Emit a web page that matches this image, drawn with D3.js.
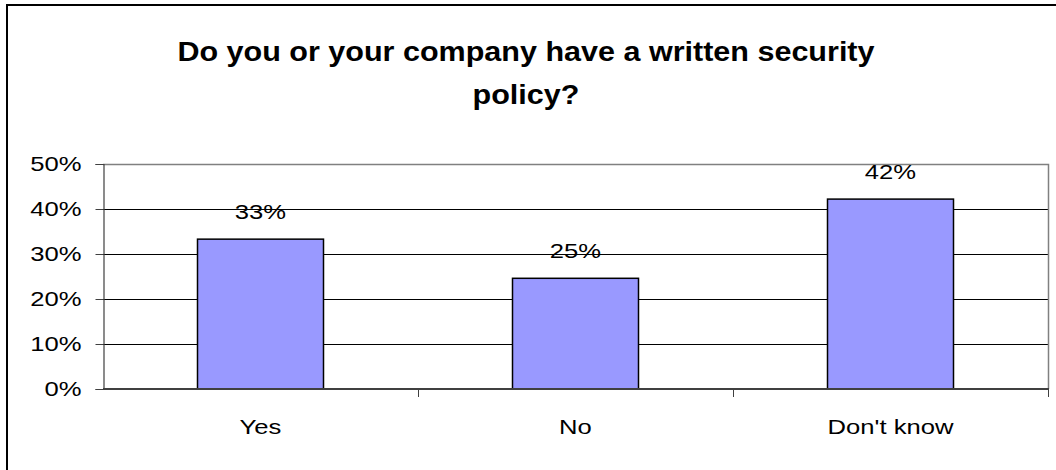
<!DOCTYPE html>
<html>
<head>
<meta charset="utf-8">
<script src="https://cdn.jsdelivr.net/npm/d3@7"></script>
<style>
  html, body { margin: 0; padding: 0; background: #fff; }
  svg { display: block; font-family: "Liberation Sans", Arial, sans-serif; }
</style>
</head>
<body>
<svg id="chart" width="1056" height="470"></svg>
<script>
// Survey responses
const categories = ["Yes", "No", "Don't know"];
const shares = [0.333, 0.246, 0.422];
const yTicks = [0, 0.1, 0.2, 0.3, 0.4, 0.5];
const titleLines = ["Do you or your company have a written security", "policy?"];

const W = 1056, H = 470;
const plot = { left: 103, right: 1048, top: 164, bottom: 389 };

const svg = d3.select("#chart");

// Widen glyphs horizontally by factor k (text keeps its anchor)
function widen(sel, k) {
  sel.each(function () {
    const len = this.getComputedTextLength();
    d3.select(this)
      .attr("textLength", len * k)
      .attr("lengthAdjust", "spacingAndGlyphs");
  });
}

// Outer chart frame
svg.append("rect")
  .attr("x", 7).attr("y", 5)
  .attr("width", W + 10).attr("height", H + 10)
  .attr("fill", "#fff").attr("stroke", "#000").attr("stroke-width", 2);

// Title
const title = svg.append("g")
  .attr("font-weight", "bold")
  .attr("font-size", 28)
  .attr("fill", "#000");
title.selectAll("text")
  .data(titleLines)
  .join("text")
  .attr("x", 526)
  .attr("y", (d, i) => 61 + i * 43)
  .attr("text-anchor", "middle")
  .text(d => d)
  .call(widen, 1.09);

const x = d3.scaleBand()
  .domain(categories)
  .range([plot.left, plot.right])
  .paddingInner(0.6)
  .paddingOuter(0.3);

const xOuter = d3.scaleBand()
  .domain(categories)
  .range([plot.left, plot.right]);

const y = d3.scaleLinear()
  .domain([0, 0.5])
  .range([plot.bottom, plot.top]);

// Horizontal gridlines
svg.append("g")
  .selectAll("line")
  .data(yTicks.filter(d => d > 0 && d < 0.5))
  .join("line")
  .attr("x1", plot.left).attr("x2", plot.right)
  .attr("y1", d => Math.round(y(d)) + 0.5).attr("y2", d => Math.round(y(d)) + 0.5)
  .attr("stroke", "#000").attr("stroke-width", 1);

// Plot area border (top and right)
svg.append("path")
  .attr("d", `M${plot.left},${plot.top + 0.5}H${plot.right + 0.5}V${plot.bottom}`)
  .attr("fill", "none").attr("stroke", "#808080").attr("stroke-width", 1.5);

// Y axis
const yAxis = d3.axisLeft(y)
  .tickValues(yTicks)
  .tickFormat(d3.format(".0%"))
  .tickSize(8)
  .tickPadding(14);
const gy = svg.append("g")
  .attr("transform", `translate(${plot.left + 0.5},0)`)
  .call(yAxis);
gy.select(".domain").attr("stroke", "#404040").attr("stroke-width", 1.2);
gy.selectAll(".tick line").attr("stroke", "#404040");
gy.selectAll(".tick text")
  .attr("font-size", 21)
  .attr("font-family", "Liberation Sans, Arial, sans-serif")
  .attr("fill", "#000")
  .call(widen, 1.22);

// Bars
svg.append("g")
  .selectAll("rect")
  .data(categories.map((c, i) => ({ c, v: shares[i] })))
  .join("rect")
  .attr("x", d => x(d.c))
  .attr("y", d => y(d.v))
  .attr("width", x.bandwidth())
  .attr("height", d => y(0) - y(d.v))
  .attr("fill", "#9999FF")
  .attr("stroke", "#000")
  .attr("stroke-width", 1.5);

// X axis with ticks between categories
const gx = svg.append("g").attr("transform", `translate(0,${plot.bottom})`);
gx.append("line")
  .attr("x1", plot.left).attr("x2", plot.right + 1)
  .attr("stroke", "#404040").attr("stroke-width", 2);
gx.selectAll("line.sep")
  .data(categories.slice(1).concat(["__end"]))
  .join("line")
  .attr("class", "sep")
  .attr("x1", d => (d === "__end" ? plot.right : xOuter(d)) + 0.5)
  .attr("x2", d => (d === "__end" ? plot.right : xOuter(d)) + 0.5)
  .attr("y1", 0).attr("y2", 8)
  .attr("stroke", "#404040");
gx.selectAll("text")
  .data(categories)
  .join("text")
  .attr("x", d => x(d) + x.bandwidth() / 2)
  .attr("y", 45)
  .attr("text-anchor", "middle")
  .attr("font-size", 21)
  .attr("fill", "#000")
  .text(d => d)
  .call(widen, 1.22);

// Value labels above bars
svg.append("g")
  .selectAll("text")
  .data(categories.map((c, i) => ({ c, v: shares[i] })))
  .join("text")
  .attr("x", d => x(d.c) + x.bandwidth() / 2)
  .attr("y", d => y(d.v) - 20)
  .attr("text-anchor", "middle")
  .attr("font-size", 21)
  .attr("fill", "#000")
  .text(d => Math.round(d.v * 100) + "%")
  .call(widen, 1.22);
</script>
</body>
</html>
